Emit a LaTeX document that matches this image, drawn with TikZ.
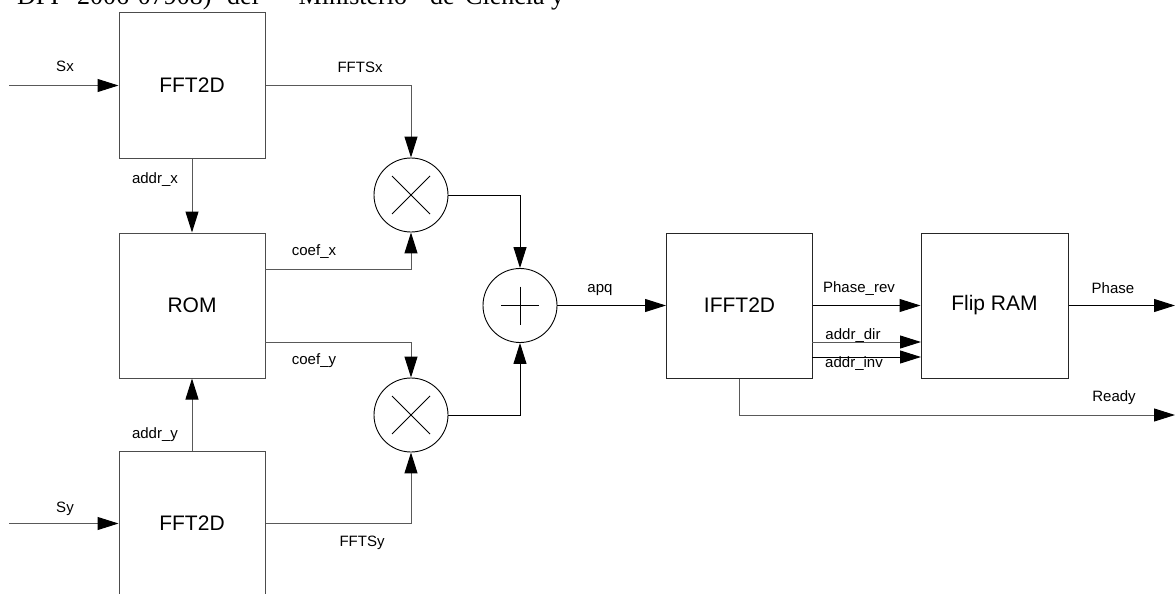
\documentclass[tikz,border=0pt]{standalone}
\usepackage{fontspec}
\setmainfont{Liberation Sans}
\newfontfamily\serifw{Liberation Serif}
\usetikzlibrary{arrows.meta}
\begin{document}
\begin{tikzpicture}[x=1pt,y=-1pt,
 blk/.style={draw=black!70, line width=1pt, minimum width=146pt, minimum height=145pt, inner sep=0pt, font=\fontsize{21}{24}\selectfont},
 op/.style={draw=black, line width=0.9pt, circle, minimum size=74pt, inner sep=0pt},
 mul/.style={op, path picture={\draw[line width=1pt] (path picture bounding box.center) +(-19,-19) -- +(19,19) +(-19,19) -- +(19,-19);}},
 add/.style={op, path picture={\draw[line width=1pt] (path picture bounding box.center) +(-19,0) -- +(19,0) +(0,-19) -- +(0,19);}},
 arr/.style={draw=black!65, line width=1pt, -{Triangle[length=21pt,width=13pt,color=black]}},
 arrk/.style={arr, draw=black},
 lbl/.style={anchor=base, inner sep=0pt, font=\fontsize{15}{18}\selectfont},
 hdr/.style={anchor=base west, inner sep=0pt, font=\serifw\fontsize{26}{30}\selectfont}]
\useasboundingbox (0,0) rectangle (1176,594);
% header text (clipped at the top edge, as in the reference)
\node[hdr] (h1) at (17,5) {DPI};
\node[hdr] (h2) at (77,5) {2006-07908)};
\node[hdr] (h3) at (227,5) {del};
\node[hdr] (h4) at (287,5) {“Ministerio};
\node[hdr] (h5) at (430,5) {de};
\node[hdr] (h6) at (465,5) {Ciencia};
\node[hdr] (h7) at (551,5) {y};
% blocks
\node[blk] (fx) at (192,85.5) {FFT2D};
\node[blk] (rom) at (192,305.5) {ROM};
\node[blk] (fy) at (192,523.5) {FFT2D};
\node[blk, draw=black!85] (ifft) at (739.5,305.5) {IFFT2D};
\node[blk, draw=black!85, minimum width=147pt] (flip) at (994.5,305.5) {Flip RAM};
% operators
\node[mul] (m1) at (411,195) {};
\node[mul] (m2) at (411,415) {};
\node[add] (ad) at (520,305.5) {};
% free ends
\coordinate (sxin) at (9,85.5);
\coordinate (syin) at (9,523.5);
\coordinate (cxo) at (265,269);
\coordinate (cyo) at (265,342);
\coordinate (d1a) at (812,342);
\coordinate (d1b) at (921,342);
\coordinate (d2a) at (812,357);
\coordinate (d2b) at (921,357);
\coordinate (phout) at (1175,305.5);
\coordinate (rdout) at (1175,415);
% connectors
\draw[arr] (sxin) -- (fx.west);
\draw[arr] (syin) -- (fy.west);
\draw[arr] (fx.east) -| (m1.north);
\draw[arr] (fx.south) -- (rom.north);
\draw[arr] (fy.north) -- (rom.south);
\draw[arr] (cxo) -| (m1.south);
\draw[arr] (cyo) -| (m2.north);
\draw[arr] (fy.east) -| (m2.south);
\draw[arrk] (m1.east) -| (ad.north);
\draw[arrk] (m2.east) -| (ad.south);
\draw[arrk] (ad.east) -- (ifft.west);
\draw[arrk] (ifft.east) -- (flip.west);
\draw[arr] (d1a) -- (d1b);
\draw[arrk] (d2a) -- (d2b);
\draw[arrk] (flip.east) -- (phout);
\draw[arr] (ifft.south) |- (rdout);
% labels
\node[lbl] (lsx) at (65,72) {Sx};
\node[lbl] (lsy) at (65,512) {Sy};
\node[lbl] (lax) at (155,183) {addr\_x};
\node[lbl] (lay) at (155,438) {addr\_y};
\node[lbl] (lfx) at (360,73) {FFTSx};
\node[lbl] (lfy) at (362,546) {FFTSy};
\node[lbl] (lcx) at (314,255) {coef\_x};
\node[lbl] (lcy) at (314,364) {coef\_y};
\node[lbl] (lapq) at (600,292) {apq};
\node[lbl] (lpr) at (859,292) {Phase\_rev};
\node[lbl] (ldd) at (853,339) {addr\_dir};
\node[lbl] (ldi) at (854,367) {addr\_inv};
\node[lbl] (lph) at (1113,293) {Phase};
\node[lbl] (lrd) at (1114,401) {Ready};
\end{tikzpicture}
\end{document}
